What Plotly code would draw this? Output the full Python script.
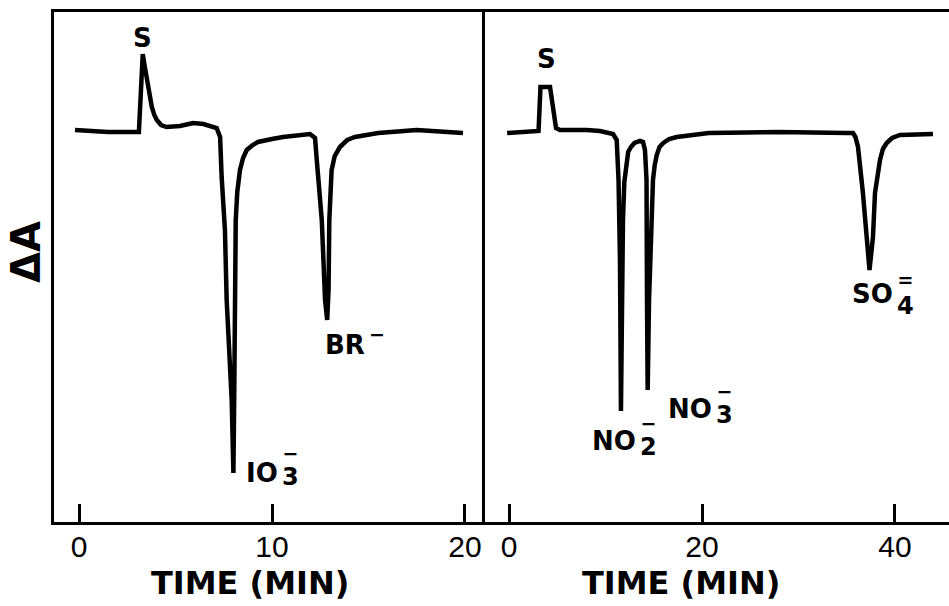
import plotly.graph_objects as go

# ---------------- data ----------------
# left chromatogram (time in min, relative absorbance change)
t_left = [-0.21, 1.5, 3.1, 3.2, 3.3, 3.4, 3.51, 3.64, 3.77, 3.9, 4.03, 4.25, 4.54, 5.23,
          5.92, 6.44, 7.13, 7.31, 7.39, 7.56, 7.65, 7.91, 8.0, 8.04, 8.07, 8.12, 8.2,
          8.34, 8.5, 8.69, 9.0, 9.27, 10.0, 10.57, 11.97, 12.23, 12.32, 12.58, 12.75,
          12.86, 12.93, 12.97, 13.09, 13.25, 13.52, 13.9, 14.3, 15.5, 17.5, 19.9]
dA_left = [0.02, 0.0, 0.0, 0.32, 0.78, 0.66, 0.52, 0.38, 0.25, 0.17, 0.12, 0.07, 0.05, 0.06,
           0.09, 0.08, 0.04, -0.05, -0.45, -0.98, -1.68, -2.68, -3.41, -2.68, -1.68, -0.88, -0.6,
           -0.38, -0.26, -0.18, -0.13, -0.10, -0.07, -0.05, -0.02, -0.06, -0.28, -0.88, -1.68,
           -1.88, -1.58, -0.88, -0.38, -0.24, -0.15, -0.08, -0.05, -0.01, 0.02, -0.01]

# right chromatogram
t_right = [-0.2, 2.87, 3.06, 3.26, 3.63, 4.25, 4.87, 5.28, 8.05, 9.43, 10.78, 11.16,
           11.35, 11.5, 11.6, 11.71, 11.81, 11.95, 12.12, 12.35, 12.64, 13.0, 13.58, 13.89,
           14.09, 14.25, 14.3, 14.37, 14.51, 14.71, 14.92, 15.1, 15.31, 15.6, 15.99, 16.6,
           17.38, 20.7, 27.9, 34.97, 35.65, 35.9, 36.17, 36.68, 37.36, 37.72, 37.93, 38.45,
           38.75, 39.14, 39.7, 40.52, 43.94]
dA_right = [-0.01, 0.0, 0.01, 0.45, 0.45, 0.45, 0.04, 0.02, 0.02, 0.01, -0.02, -0.08,
            -0.48, -1.28, -2.79, -1.68, -0.88, -0.5, -0.33, -0.2, -0.15, -0.11, -0.09, -0.10,
            -0.18, -0.48, -1.68, -2.58, -1.68, -0.88, -0.48, -0.33, -0.23, -0.15, -0.11, -0.07,
            -0.05, -0.01, 0.0, -0.01, -0.01, -0.05, -0.15, -0.61, -1.38, -1.05, -0.61, -0.28,
            -0.17, -0.11, -0.06, -0.03, -0.02]

ticks_left = [0, 10, 20]
ticks_right = [0, 20, 40]
x_title = "TIME (MIN)"
y_title = "ΔA"

# peak labels: panel, peak time, main text, subscript, charge
label_panel = ["L", "L", "L", "R", "R", "R", "R"]
label_time = [3.3, 8.0, 12.86, 3.63, 11.6, 14.37, 37.36]
label_text = ["S", "IO", "BR", "S", "NO", "NO", "SO"]
label_sub = ["", "3", "", "", "2", "3", "4"]
label_charge = ["", "−", "−", "", "−", "−", "="]

# ---------------- styling / layout ----------------
W, H = 949, 606
PX0_L, PX1_L = 54, 485      # left panel pixel edges
PX1_R = 949
PY_TOP, PY_BOT = 12, 522
XR_L = [-1.30, 21.04]
XR_R = [-2.49, 45.6]
YR = [-3.90, 1.20]

# pixel offsets from the peak tip:
# main text (anchor, x, y up); stacked charge/subscript block (left x, centre y up, line size)
offsets = [
    (("c", -0.7, 16), None),
    (("r", 47, 0.5), (47, 7, 19.5)),
    (("r", 39.5, -25), (39.5, -14, 24)),
    (("c", 2.7, 28), None),
    (("r", 17.5, -30), (17.5, -25.5, 19.5)),
    (("r", 66.5, -18.5), (66.5, -14.5, 19.5)),
    (("r", 25, -24), (25, -24, 21)),
]

fig = go.Figure()
fig.add_trace(go.Scatter(x=t_left, y=dA_left, mode="lines", xaxis="x", yaxis="y",
                         line=dict(color="black", width=4.5), hoverinfo="skip"))
fig.add_trace(go.Scatter(x=t_right, y=dA_right, mode="lines", xaxis="x2", yaxis="y2",
                         line=dict(color="black", width=4.5), hoverinfo="skip"))

ydom = [1 - PY_BOT / H, 1 - PY_TOP / H]
tickfont = dict(family="Liberation Sans Narrow, Liberation Sans", size=30, color="black")
common_x = dict(showline=True, linewidth=3, linecolor="black", mirror=True,
                ticks="inside", ticklen=18, tickwidth=3, tickcolor="black",
                showgrid=False, zeroline=False, tickfont=tickfont, ticklabelstandoff=-4)
common_y = dict(showline=True, linewidth=3, linecolor="black", showgrid=False,
                zeroline=False, showticklabels=False, ticks="", range=YR, domain=ydom)

fig.update_layout(
    width=W, height=H, margin=dict(l=0, r=0, t=0, b=0),
    paper_bgcolor="white", plot_bgcolor="white", showlegend=False,
    xaxis=dict(domain=[PX0_L / W, PX1_L / W], range=XR_L, tickvals=ticks_left,
               ticktext=[str(v) for v in ticks_left], anchor="y", **common_x),
    yaxis=dict(anchor="x", **common_y),
    xaxis2=dict(domain=[PX1_L / W, PX1_R / W], range=XR_R, tickvals=ticks_right,
                ticktext=[str(v) for v in ticks_right], anchor="y2", **common_x),
    yaxis2=dict(anchor="x2", **common_y),
)

lab_font = dict(family="DejaVu Sans", size=26, color="black", weight="bold")

for i in range(len(label_text)):
    if label_panel[i] == "L":
        ts, vs, xr, yr = t_left, dA_left, "x", "y"
    else:
        ts, vs, xr, yr = t_right, dA_right, "x2", "y2"
    j = min(range(len(ts)), key=lambda k: abs(ts[k] - label_time[i]))
    px, py = ts[j], vs[j]
    mode, mx, my = offsets[i][0]
    fig.add_annotation(x=px, y=py, xref=xr, yref=yr, text=label_text[i], showarrow=False,
                       xanchor="center" if mode == "c" else "right", yanchor="middle",
                       xshift=mx, yshift=my, font=lab_font)
    if offsets[i][1] is None:
        continue
    bx, by, lsize = offsets[i][1]
    lines = []
    if label_charge[i]:
        lines.append(f"<span style='font-size:19px'>{label_charge[i]}</span>")
    if label_sub[i]:
        lines.append(f"<span style='font-size:24px'>{label_sub[i]}</span>")
    fig.add_annotation(x=px, y=py, xref=xr, yref=yr, text="<br>".join(lines), showarrow=False,
                       xanchor="left", yanchor="middle", align="center", xshift=bx, yshift=by,
                       font=dict(family="DejaVu Sans", size=lsize, color="black", weight="bold"))

title_font = dict(family="DejaVu Sans", size=32, color="black", weight="bold")
fig.add_annotation(x=8.86, y=1 - 583 / H, xref="x", yref="paper", text=x_title,
                   showarrow=False, xanchor="center", yanchor="middle", font=title_font)
fig.add_annotation(x=17.8, y=1 - 583 / H, xref="x2", yref="paper", text=x_title,
                   showarrow=False, xanchor="center", yanchor="middle", font=title_font)
fig.add_annotation(x=26 / W, y=1 - 252 / H, xref="paper", yref="paper", text=y_title,
                   showarrow=False, textangle=-90, xanchor="center", yanchor="middle",
                   font=dict(family="DejaVu Sans", size=40, color="black", weight="bold"))

fig.write_html("out.html")
